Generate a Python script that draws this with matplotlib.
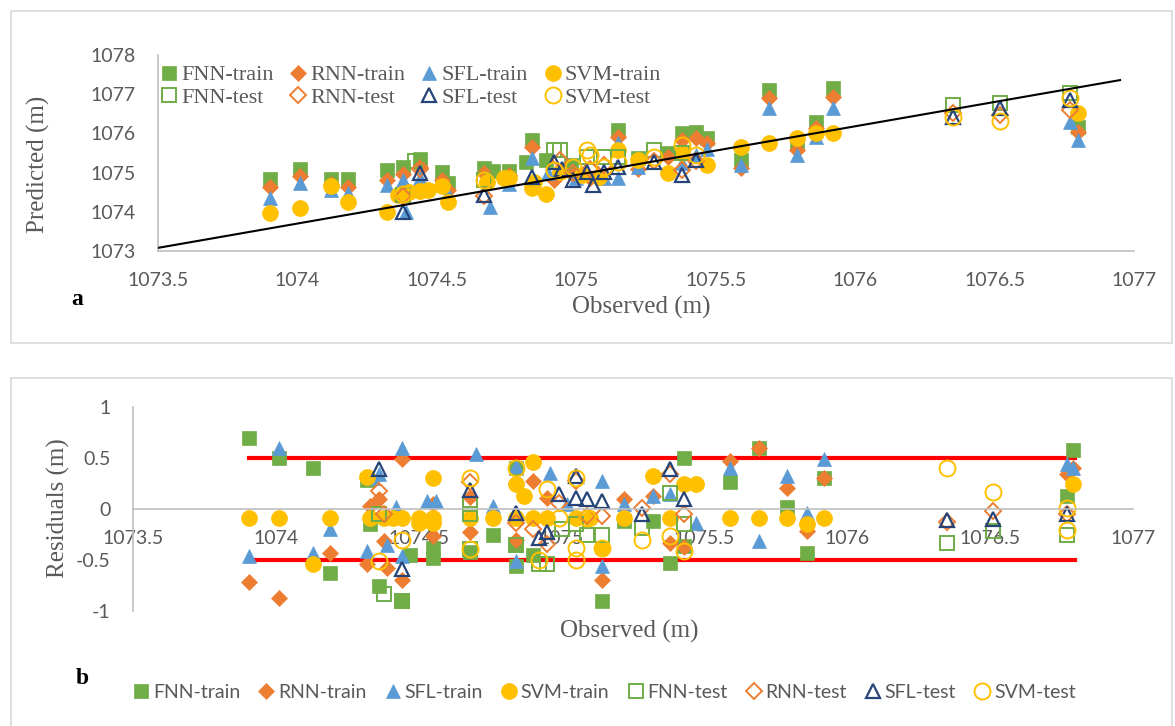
import matplotlib.pyplot as plt
from matplotlib.patches import Rectangle

# ---- panel a: observed vs predicted ----
fnn_train_obs = [1073.90, 1074.01, 1074.12, 1074.18, 1074.32, 1074.38, 1074.44, 1074.52, 1074.54, 1074.67,
                 1074.70, 1074.76, 1074.82, 1074.84, 1074.89, 1074.98, 1075.15, 1075.22, 1075.33, 1075.38,
                 1075.43, 1075.47, 1075.59, 1075.69, 1075.79, 1075.86, 1075.92, 1076.80]
fnn_train_pred = [1074.84, 1075.09, 1074.84, 1074.84, 1075.07, 1075.14, 1075.35, 1075.02, 1074.73, 1075.12,
                  1075.05, 1075.05, 1075.27, 1075.83, 1075.32, 1075.20, 1076.09, 1075.37, 1075.50, 1076.00,
                  1076.04, 1075.88, 1075.32, 1077.11, 1075.75, 1076.29, 1077.16, 1076.16]

rnn_train_obs = [1073.90, 1074.01, 1074.12, 1074.18, 1074.32, 1074.38, 1074.44, 1074.52, 1074.54, 1074.67,
                 1074.76, 1074.84, 1074.92, 1074.99, 1075.05, 1075.15, 1075.22, 1075.33, 1075.38, 1075.43,
                 1075.47, 1075.59, 1075.69, 1075.79, 1075.86, 1075.92, 1076.80]
rnn_train_pred = [1074.63, 1074.91, 1074.70, 1074.63, 1074.81, 1074.96, 1075.14, 1074.80, 1074.55, 1074.99,
                  1074.95, 1075.65, 1074.80, 1074.94, 1074.85, 1075.91, 1075.10, 1075.40, 1075.83, 1075.88,
                  1075.75, 1075.12, 1076.90, 1075.58, 1076.13, 1076.93, 1076.04]

sfl_train_obs = [1073.90, 1074.01, 1074.12, 1074.18, 1074.32, 1074.38, 1074.39, 1074.44, 1074.54, 1074.69,
                 1074.76, 1074.84, 1074.90, 1075.00, 1075.10, 1075.15, 1075.15, 1075.22, 1075.38, 1075.43,
                 1075.47, 1075.59, 1075.69, 1075.79, 1075.86, 1075.92, 1076.77, 1076.80]
sfl_train_pred = [1074.35, 1074.73, 1074.55, 1074.48, 1074.68, 1074.81, 1074.00, 1074.86, 1074.45, 1074.12,
                  1074.70, 1075.37, 1075.00, 1074.85, 1074.85, 1075.75, 1074.86, 1075.14, 1075.24, 1075.45,
                  1075.60, 1075.19, 1076.65, 1075.45, 1075.91, 1076.65, 1076.29, 1075.83]

svm_train_obs = [1073.90, 1074.01, 1074.12, 1074.18, 1074.32, 1074.36, 1074.40, 1074.44, 1074.47, 1074.52,
                 1074.54, 1074.68, 1074.74, 1074.76, 1074.84, 1074.85, 1074.89, 1074.94, 1075.02, 1075.08,
                 1075.15, 1075.22, 1075.33, 1075.38, 1075.47, 1075.59, 1075.69, 1075.79, 1075.86, 1075.92,
                 1076.80]
svm_train_pred = [1073.97, 1074.10, 1074.66, 1074.25, 1074.00, 1074.43, 1074.50, 1074.53, 1074.55, 1074.66,
                  1074.25, 1074.75, 1074.85, 1074.86, 1074.60, 1074.75, 1074.45, 1075.02, 1074.95, 1074.90,
                  1075.58, 1075.32, 1074.99, 1075.50, 1075.19, 1075.66, 1075.76, 1075.88, 1076.01, 1076.01,
                  1076.52]

fnn_test_obs = [1074.38, 1074.42, 1074.67, 1074.92, 1074.94, 1075.04, 1075.10, 1075.15, 1075.28, 1075.38,
                1076.35, 1076.52, 1076.77]
fnn_test_pred = [1074.43, 1075.30, 1074.80, 1075.58, 1075.58, 1075.40, 1075.40, 1075.40, 1075.58, 1075.50,
                 1076.72, 1076.78, 1077.03]

rnn_test_obs = [1074.38, 1074.44, 1074.67, 1074.94, 1074.99, 1075.05, 1075.10, 1075.28, 1075.38, 1075.43,
                1076.35, 1076.52, 1076.77]
rnn_test_pred = [1074.40, 1075.10, 1074.40, 1075.32, 1075.00, 1075.10, 1075.19, 1075.30, 1075.07, 1075.30,
                 1076.52, 1076.47, 1076.60]

sfl_test_obs = [1074.38, 1074.44, 1074.67, 1074.84, 1074.92, 1074.95, 1074.99, 1075.04, 1075.06, 1075.10,
                1075.15, 1075.28, 1075.38, 1075.43, 1076.35, 1076.52, 1076.77]
sfl_test_pred = [1074.00, 1074.99, 1074.43, 1074.89, 1075.27, 1075.10, 1074.81, 1075.02, 1074.68, 1075.02,
                 1075.14, 1075.27, 1074.94, 1075.32, 1076.42, 1076.65, 1076.85]

svm_test_obs = [1074.38, 1074.67, 1074.92, 1074.99, 1075.04, 1075.05, 1075.10, 1075.15, 1075.28, 1075.38,
                1075.43, 1076.35, 1076.52, 1076.77]
svm_test_pred = [1074.45, 1074.81, 1075.07, 1075.14, 1075.58, 1075.45, 1075.14, 1075.27, 1075.40, 1075.70,
                 1075.45, 1076.42, 1076.32, 1076.90]

fit_x = [1073.50, 1076.95]
fit_y = [1073.08, 1077.36]

# ---- panel b: residuals ----
fnn_train_rx = [1073.906, 1074.01, 1074.13, 1074.19, 1074.32, 1074.33, 1074.36, 1074.44, 1074.47, 1074.55,
                1074.55, 1074.68, 1074.76, 1074.84, 1074.84, 1074.84, 1074.90, 1075.14, 1075.22, 1075.32,
                1075.38, 1075.43, 1075.43, 1075.59, 1075.69, 1075.79, 1075.86, 1075.92, 1076.77, 1076.79]
fnn_train_res = [0.70, 0.50, 0.40, -0.63, 0.28, -0.15, -0.75, -0.90, -0.45, -0.38,
                 -0.48, -0.42, -0.25, 0.40, -0.34, -0.56, -0.45, -0.90, -0.12, -0.12,
                 -0.53, 0.50, -0.36, 0.26, 0.60, 0.02, -0.43, 0.30, 0.13, 0.58]

rnn_train_rx = [1073.906, 1074.01, 1074.19, 1074.32, 1074.33, 1074.36, 1074.38, 1074.39, 1074.44, 1074.44,
                1074.55, 1074.55, 1074.68, 1074.68, 1074.84, 1074.84, 1074.90, 1074.95, 1075.14, 1075.22,
                1075.32, 1075.38, 1075.43, 1075.59, 1075.69, 1075.79, 1075.86, 1075.92, 1076.77, 1076.79]
rnn_train_res = [-0.72, -0.87, -0.43, -0.54, 0.03, 0.10, -0.31, -0.58, 0.49, -0.70,
                 0.05, -0.26, -0.23, 0.12, 0.25, -0.30, 0.27, 0.11, -0.70, 0.10,
                 0.13, -0.33, -0.37, 0.47, 0.60, 0.21, -0.22, 0.30, 0.34, 0.40]

sfl_train_rx = [1073.906, 1074.01, 1074.13, 1074.19, 1074.32, 1074.34, 1074.36, 1074.39, 1074.42, 1074.44,
                1074.44, 1074.53, 1074.56, 1074.70, 1074.76, 1074.84, 1074.84, 1074.96, 1075.02, 1075.14,
                1075.14, 1075.22, 1075.32, 1075.38, 1075.47, 1075.59, 1075.69, 1075.79, 1075.86, 1075.92,
                1076.77, 1076.79]
sfl_train_res = [-0.46, 0.60, -0.43, -0.20, -0.41, 0.30, 0.34, -0.35, 0.02, 0.60,
                 -0.46, 0.08, 0.08, 0.54, 0.03, 0.42, -0.51, 0.35, 0.05, 0.27,
                 -0.56, 0.05, 0.13, 0.15, -0.14, 0.40, -0.31, 0.32, -0.04, 0.49,
                 0.44, 0.40]

svm_train_rx = [1073.906, 1074.01, 1074.13, 1074.19, 1074.32, 1074.33, 1074.38, 1074.41, 1074.44, 1074.50,
                1074.50, 1074.55, 1074.55, 1074.55, 1074.68, 1074.76, 1074.84, 1074.84, 1074.87, 1074.90,
                1074.90, 1074.95, 1075.05, 1075.10, 1075.14, 1075.22, 1075.32, 1075.38, 1075.43, 1075.47,
                1075.59, 1075.69, 1075.79, 1075.86, 1075.92, 1076.79]
svm_train_res = [-0.09, -0.09, -0.54, -0.09, 0.31, -0.09, -0.09, -0.09, -0.09, -0.09,
                 -0.14, 0.30, -0.09, -0.14, -0.09, -0.09, 0.25, -0.09, 0.13, 0.46,
                 -0.09, -0.09, -0.09, -0.09, -0.38, -0.09, 0.32, -0.09, 0.25, 0.25,
                 -0.09, -0.09, -0.09, -0.15, -0.09, 0.25]

fnn_test_rx = [1074.36, 1074.38, 1074.44, 1074.68, 1074.68, 1074.68, 1074.84, 1074.92, 1074.95, 1075.00,
               1075.05, 1075.09, 1075.14, 1075.28, 1075.38, 1075.43, 1076.35, 1076.51, 1076.77]
fnn_test_res = [-0.05, -0.83, -0.90, 0.05, -0.05, -0.39, -0.35, -0.54, -0.54, -0.20,
                -0.15, -0.25, -0.25, -0.19, 0.16, -0.15, -0.33, -0.22, -0.25]

rnn_test_rx = [1074.36, 1074.38, 1074.68, 1074.84, 1074.90, 1074.95, 1074.99, 1075.05, 1075.09, 1075.14,
               1075.28, 1075.38, 1075.43, 1076.35, 1076.51, 1076.77]
rnn_test_res = [0.18, -0.05, 0.26, -0.14, -0.20, -0.34, 0.06, 0.27, -0.07, -0.07,
                0.01, 0.34, -0.05, -0.13, -0.02, -0.05]

sfl_test_rx = [1074.36, 1074.44, 1074.68, 1074.84, 1074.92, 1074.95, 1074.99, 1075.05, 1075.05, 1075.09,
               1075.14, 1075.28, 1075.38, 1075.43, 1076.35, 1076.51, 1076.77]
sfl_test_res = [0.39, -0.59, 0.19, -0.04, -0.28, -0.23, 0.15, 0.32, 0.11, 0.10,
                0.08, -0.05, 0.39, 0.10, -0.11, -0.10, -0.05]

svm_test_rx = [1074.36, 1074.44, 1074.68, 1074.68, 1074.84, 1074.92, 1074.95, 1074.99, 1075.05, 1075.05,
               1075.05, 1075.09, 1075.14, 1075.28, 1075.38, 1075.43, 1076.35, 1076.51, 1076.77, 1076.77]
svm_test_res = [-0.51, -0.30, 0.30, -0.39, 0.40, -0.50, 0.20, -0.09, 0.30, -0.38,
                -0.50, -0.09, -0.38, -0.30, -0.26, -0.41, 0.40, 0.17, 0.01, -0.21]

band_x = [1073.906, 1076.796]
band_hi = [0.5, 0.5]
band_lo = [-0.5, -0.5]

x_ticks = [1073.5, 1074, 1074.5, 1075, 1075.5, 1076, 1076.5, 1077]
x_ticklabels = ["1073.5", "1074", "1074.5", "1075", "1075.5", "1076", "1076.5", "1077"]
top_yticks = [1073, 1074, 1075, 1076, 1077, 1078]
res_yticks = [-1, -0.5, 0, 0.5, 1]
res_yticklabels = ["-1", "-0.5", "0", "0.5", "1"]

# ---- style ----
GREEN = "#70AD47"
ORANGE = "#ED7D31"
BLUE = "#5B9BD5"
GOLD = "#FFC000"
NAVY = "#264478"
GREY_TXT = "#595959"
AXIS_C = "#BFBFBF"
SERIF = "Liberation Serif"
SANS = "Lato"

styles = [
    ("FNN-train", dict(marker="s", ms=10, mfc=GREEN, mec=GREEN, mew=0.5)),
    ("RNN-train", dict(marker="D", ms=8, mfc=ORANGE, mec=ORANGE, mew=0.5)),
    ("SFL-train", dict(marker="^", ms=10, mfc=BLUE, mec=BLUE, mew=0.5)),
    ("SVM-train", dict(marker="o", ms=11.5, mfc=GOLD, mec=GOLD, mew=0.5)),
    ("FNN-test", dict(marker="s", ms=10, mfc="none", mec=GREEN, mew=1.4)),
    ("RNN-test", dict(marker="D", ms=8, mfc="none", mec=ORANGE, mew=1.4)),
    ("SFL-test", dict(marker="^", ms=10, mfc="none", mec=NAVY, mew=1.6)),
    ("SVM-test", dict(marker="o", ms=11.5, mfc="none", mec=GOLD, mew=1.4)),
]

top_series = [
    (fnn_train_obs, fnn_train_pred), (rnn_train_obs, rnn_train_pred),
    (sfl_train_obs, sfl_train_pred), (svm_train_obs, svm_train_pred),
    (fnn_test_obs, fnn_test_pred), (rnn_test_obs, rnn_test_pred),
    (sfl_test_obs, sfl_test_pred), (svm_test_obs, svm_test_pred),
]
res_series = [
    (fnn_train_rx, fnn_train_res), (rnn_train_rx, rnn_train_res),
    (sfl_train_rx, sfl_train_res), (svm_train_rx, svm_train_res),
    (fnn_test_rx, fnn_test_res), (rnn_test_rx, rnn_test_res),
    (sfl_test_rx, sfl_test_res), (svm_test_rx, svm_test_res),
]

W, H = 1175, 726
fig = plt.figure(figsize=(W / 100, H / 100), dpi=100)


def fx(px):
    return px / W


def fy(py):
    return 1 - py / H


# panel frames
fig.patches.append(Rectangle((fx(11), fy(343)), fx(1161), 332 / H, transform=fig.transFigure,
                             fill=False, ec="#D9D9D9", lw=1.2))
fig.patches.append(Rectangle((fx(11), fy(735)), fx(1161), 357 / H, transform=fig.transFigure,
                             fill=False, ec="#D9D9D9", lw=1.2))

# ---- top axes ----
ax1 = fig.add_axes([fx(158), fy(251), fx(1134 - 158), 196 / H])
ax1.set_axisbelow(True)
ax1.plot(fit_x, fit_y, color="black", lw=1.5, zorder=5)
for (name, st), (xs, ys) in zip(styles, top_series):
    ax1.plot(xs, ys, ls="none", label=name, **st)
ax1.set_xlim(1073.5, 1077)
ax1.set_ylim(1073, 1078)
ax1.set_xticks(x_ticks)
ax1.set_xticklabels(x_ticklabels)
ax1.set_yticks(top_yticks)
for s in ["top", "right"]:
    ax1.spines[s].set_visible(False)
for s in ["left", "bottom"]:
    ax1.spines[s].set_color(AXIS_C)
    ax1.spines[s].set_linewidth(1.2)
ax1.tick_params(axis="x", length=0, pad=15, labelsize=14, labelcolor=GREY_TXT)
ax1.tick_params(axis="y", length=0, pad=16, labelsize=14, labelcolor=GREY_TXT)
for lab in ax1.get_xticklabels() + ax1.get_yticklabels():
    lab.set_fontfamily(SANS)
ax1.patch.set_alpha(0)

# legend: 2 rows x 4 columns, train on first row
h, l = ax1.get_legend_handles_labels()
order = [0, 4, 1, 5, 2, 6, 3, 7]
ax1.legend([h[i] for i in order], [l[i] for i in order], ncol=4, loc="upper left",
           bbox_to_anchor=(fx(152), fy(56)), bbox_transform=fig.transFigure,
           frameon=False, prop={"family": SERIF, "size": 16}, labelcolor=GREY_TXT,
           handlelength=0.7, handletextpad=0.2, columnspacing=0.75, labelspacing=0.1,
           borderaxespad=0)

fig.text(fx(38), fy(164), "Predicted (m)", rotation=90, ha="center", va="center",
         family=SERIF, size=18, color=GREY_TXT)
fig.text(fx(641), fy(307), "Observed (m)", ha="center", va="center",
         family=SERIF, size=18, color=GREY_TXT)
fig.text(fx(77), fy(300), "a", ha="center", va="center", family=SERIF, size=17,
         weight="bold", color="black")

# ---- bottom axes ----
ax2 = fig.add_axes([fx(133), fy(611), fx(1133 - 133), 204 / H])
ax2.set_axisbelow(True)
ax2.plot(band_x, band_hi, color="#FF0000", lw=3, zorder=1)
ax2.plot(band_x, band_lo, color="#FF0000", lw=3, zorder=1)
for (name, st), (xs, ys) in zip(styles, res_series):
    ax2.plot(xs, ys, ls="none", label=name, zorder=2, **st)
ax2.set_xlim(1073.5, 1077)
ax2.set_ylim(-1, 1)
ax2.set_xticks(x_ticks)
ax2.set_xticklabels(x_ticklabels)
ax2.set_yticks(res_yticks)
ax2.set_yticklabels(res_yticklabels)
for s in ["top", "right"]:
    ax2.spines[s].set_visible(False)
ax2.spines["bottom"].set_position(("data", 0))
for s in ["left", "bottom"]:
    ax2.spines[s].set_color(AXIS_C)
    ax2.spines[s].set_linewidth(1.2)
ax2.tick_params(axis="x", length=0, pad=15, labelsize=14, labelcolor=GREY_TXT)
ax2.tick_params(axis="y", length=0, pad=16, labelsize=14, labelcolor=GREY_TXT)
for lab in ax2.get_xticklabels() + ax2.get_yticklabels():
    lab.set_fontfamily(SANS)
ax2.patch.set_alpha(0)

fig.text(fx(58), fy(508), "Residuals (m)", rotation=90, ha="center", va="center",
         family=SERIF, size=18, color=GREY_TXT)
fig.text(fx(629), fy(631), "Observed (m)", ha="center", va="center",
         family=SERIF, size=18, color=GREY_TXT)
fig.text(fx(82), fy(678), "b", ha="center", va="center", family=SERIF, size=17,
         weight="bold", color="black")

h2, l2 = ax2.get_legend_handles_labels()
fig.legend(h2, l2, ncol=8, loc="center", bbox_to_anchor=(fx(605), fy(692)),
           frameon=False, prop={"family": SANS, "size": 14}, labelcolor=GREY_TXT,
           handlelength=0.7, handletextpad=0.25, columnspacing=1.0)

fig.savefig("out.png", dpi=100)
